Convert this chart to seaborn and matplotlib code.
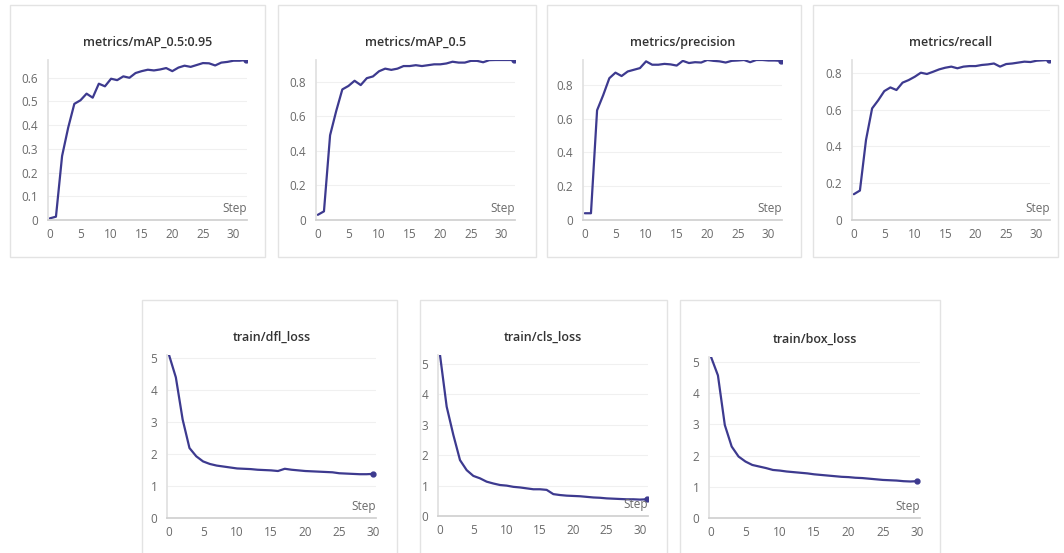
import numpy as np
import pandas as pd
import matplotlib
matplotlib.use("Agg")
import matplotlib.pyplot as plt
from matplotlib.patches import Rectangle
from matplotlib.ticker import FuncFormatter
import seaborn as sns

# values
map_50_95 = [0.007, 0.014, 0.27, 0.39, 0.49, 0.505, 0.533, 0.516, 0.575, 0.564,
             0.596, 0.59, 0.606, 0.60, 0.62, 0.628, 0.634, 0.631, 0.635, 0.641,
             0.628, 0.643, 0.651, 0.646, 0.654, 0.662, 0.661, 0.652, 0.664, 0.667,
             0.672, 0.672, 0.675]
map_50 = [0.03, 0.05, 0.49, 0.63, 0.755, 0.775, 0.805, 0.78, 0.82, 0.83,
          0.86, 0.875, 0.868, 0.875, 0.89, 0.89, 0.895, 0.89, 0.895, 0.90,
          0.90, 0.905, 0.915, 0.91, 0.91, 0.92, 0.92, 0.912, 0.924, 0.925,
          0.925, 0.925, 0.925]
precision = [0.04, 0.04, 0.65, 0.74, 0.84, 0.873, 0.853, 0.88, 0.89, 0.90,
             0.94, 0.92, 0.92, 0.925, 0.922, 0.915, 0.943, 0.93, 0.935, 0.933,
             0.948, 0.943, 0.94, 0.933, 0.943, 0.945, 0.948, 0.935, 0.948, 0.948,
             0.945, 0.945, 0.943]
recall = [0.14, 0.16, 0.435, 0.606, 0.65, 0.70, 0.72, 0.706, 0.746, 0.76,
          0.778, 0.80, 0.793, 0.805, 0.818, 0.827, 0.833, 0.824, 0.833, 0.836,
          0.836, 0.842, 0.845, 0.85, 0.833, 0.847, 0.85, 0.855, 0.86, 0.858,
          0.865, 0.867, 0.869]
dfl_loss = [5.1, 4.4, 3.08, 2.19, 1.93, 1.77, 1.69, 1.64, 1.61, 1.58,
            1.55, 1.54, 1.53, 1.51, 1.50, 1.49, 1.47, 1.54, 1.51, 1.49,
            1.47, 1.46, 1.45, 1.44, 1.43, 1.40, 1.39, 1.38, 1.37, 1.37, 1.38]
cls_loss = [5.3, 3.6, 2.67, 1.84, 1.51, 1.32, 1.24, 1.13, 1.07, 1.02,
            1.00, 0.96, 0.94, 0.91, 0.88, 0.88, 0.86, 0.72, 0.69, 0.67,
            0.66, 0.65, 0.63, 0.61, 0.60, 0.58, 0.57, 0.56, 0.55, 0.55,
            0.54, 0.55]
box_loss = [5.16, 4.57, 2.98, 2.29, 1.97, 1.81, 1.70, 1.65, 1.60, 1.54,
            1.52, 1.49, 1.47, 1.45, 1.43, 1.40, 1.38, 1.36, 1.34, 1.32,
            1.31, 1.29, 1.28, 1.26, 1.24, 1.22, 1.21, 1.20, 1.18, 1.17, 1.18]

titles = ["metrics/mAP_0.5:0.95", "metrics/mAP_0.5", "metrics/precision",
          "metrics/recall", "train/dfl_loss", "train/cls_loss", "train/box_loss"]
series = [map_50_95, map_50, precision, recall, dfl_loss, cls_loss, box_loss]
yticks = [np.arange(0, 0.61, 0.1), np.arange(0, 0.81, 0.2), np.arange(0, 0.81, 0.2),
          np.arange(0, 0.81, 0.2), range(6), range(6), range(6)]

sns.set_theme(style="white")
plt.rcParams['font.family'] = ['Open Sans', 'DejaVu Sans']

W, H = 1064, 553
fig = plt.figure(figsize=(W / 100, H / 100), dpi=100)
fig.patch.set_facecolor('white')

# panel boxes (px): left, top, right, bottom ; axes (px): left, top, right, bottom
boxes = [(10, 5, 265, 257), (278, 5, 536, 257), (547, 5, 801, 257), (813, 5, 1058, 257),
         (142, 300, 397, 560), (420, 300, 667, 560), (680, 300, 940, 560)]
axes_px = [(48, 60, 247, 220), (316, 60, 515, 220), (583, 60, 782, 220), (852, 60, 1050, 220),
           (167, 355, 376, 518), (438, 355, 648, 516), (709, 357, 920, 518)]
xmax = [32.2, 32.2, 32.2, 32.2, 30.4, 31.2, 30.4]

line_col = '#3d3a8f'

for i in range(7):
    bl, bt, br, bb = boxes[i]
    fig.patches.append(Rectangle((bl / W, 1 - bb / H), (br - bl) / W, (bb - bt) / H,
                                 transform=fig.transFigure, fill=False,
                                 edgecolor='#e3e3e3', linewidth=1.0))
    al, at, ar, ab = axes_px[i]
    ax = fig.add_axes([al / W, 1 - ab / H, (ar - al) / W, (ab - at) / H])
    df = pd.DataFrame({'Step': np.arange(len(series[i])), 'value': series[i]})
    sns.lineplot(data=df, x='Step', y='value', ax=ax, color=line_col, linewidth=1.6)
    ax.plot(df['Step'].iloc[-1], df['value'].iloc[-1], 'o', color=line_col, markersize=3.5)
    ax.set_xlim(-0.3, xmax[i])
    ax.set_ylim(0, max(series[i]))
    ax.set_xticks(range(0, 31, 5))
    ax.set_yticks(list(yticks[i]))
    ax.yaxis.set_major_formatter(FuncFormatter(lambda v, p: f'{v:g}'))
    ax.set_xlabel('')
    ax.set_ylabel('')
    ax.grid(axis='y', color='#f0f0f0', linewidth=0.8)
    for s in ['top', 'right']:
        ax.spines[s].set_visible(False)
    ax.spines['left'].set_color('#e0e0e0')
    ax.spines['bottom'].set_color('#d0d0d0')
    ax.tick_params(axis='both', colors='#d0d0d0', labelcolor='#6a6a6a', labelsize=8.5,
                   length=4, width=0.8)
    ax.tick_params(axis='x', direction='inout', pad=4)
    ax.tick_params(axis='y', pad=3)
    ax.set_facecolor('white')
    ax.set_title(titles[i], fontsize=9, color='#333333', pad=10, fontweight='semibold')
    ax.text(1.0, 0.03, 'Step', transform=ax.transAxes, ha='right', va='bottom',
            fontsize=8.5, color='#6a6a6a')

fig.savefig('out.png', dpi=100, facecolor='white')
